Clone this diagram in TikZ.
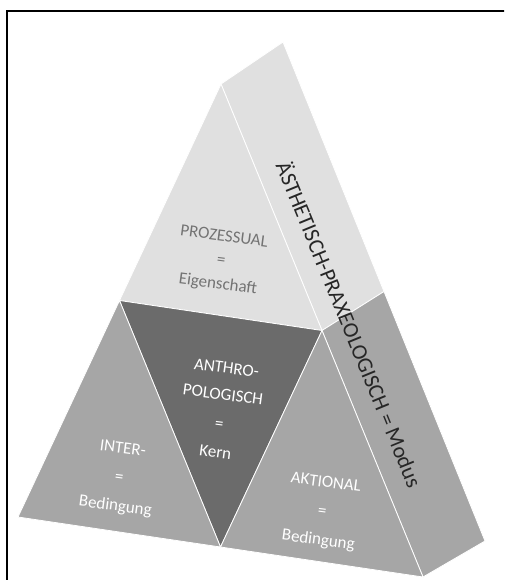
\documentclass[tikz,border=0pt]{standalone}
\usepackage{fontspec}
\setmainfont{Carlito}
\usetikzlibrary{calc}
\begin{document}
\begin{tikzpicture}[x=1pt,y=-1pt,
face/.style={draw=white,line width=0.8pt,line join=round},
facetext/.style={align=center,inner sep=0pt,rotate=-7.5,font=\fontsize{17}{30}\selectfont}]
\useasboundingbox (0,0) rectangle (504,580);
\clip (0,0) rectangle (504,580);
\fill[white] (0,0) rectangle (504,580);
\draw[line width=2pt] (7,11) rectangle (530,610);

\coordinate (apexF) at (221,84);
\coordinate (apexB) at (283,42);
\coordinate (baseL) at (18,517);
\coordinate (baseR) at (423,577);
\coordinate (baseRB) at (485,541);
\coordinate (midL) at ($(apexF)!0.5!(baseL)$);
\coordinate (midR) at ($(apexF)!0.5!(baseR)$);
\coordinate (midB) at ($(baseL)!0.5!(baseR)$);
\coordinate (midRB) at ($(apexB)!0.5!(baseRB)$);

\fill[face,fill=black!12] (apexF) -- (apexB) -- (midRB) -- (midR) -- cycle;
\fill[face,fill=black!35] (midR) -- (midRB) -- (baseRB) -- (baseR) -- cycle;
\fill[face,fill=black!12] (apexF) -- (midL) -- (midR) -- cycle;
\fill[face,fill=black!58] (midL) -- (midR) -- (midB) -- cycle;
\fill[face,fill=black!35] (midL) -- (midB) -- (baseL) -- cycle;
\fill[face,fill=black!35] (midR) -- (baseR) -- (midB) -- cycle;

\draw (221,261) node[facetext,text=black!55] (prozessual) {PROZESSUAL\\[-6pt]=\\[-6pt]Eigenschaft};
\draw (221,410) node[facetext,text=white] (anthro) {ANTHRO-\\[-3pt]POLOGISCH\\[-1pt]=\\[-1pt]Kern};
\draw (119,478) node[facetext,text=white] (inter) {INTER-\\[-1pt]=\\[-1pt]Bedingung};
\draw (322,512) node[facetext,text=white] (aktional) {AKTIONAL\\[-1pt]=\\[-1pt]Bedingung};
\draw (350,324) node[inner sep=0pt,rotate=-67.7,text=black!85,font=\fontsize{22}{26}\selectfont] (modus) {ÄSTHETISCH-PRAXEOLOGISCH = Modus};
\end{tikzpicture}
\end{document}
